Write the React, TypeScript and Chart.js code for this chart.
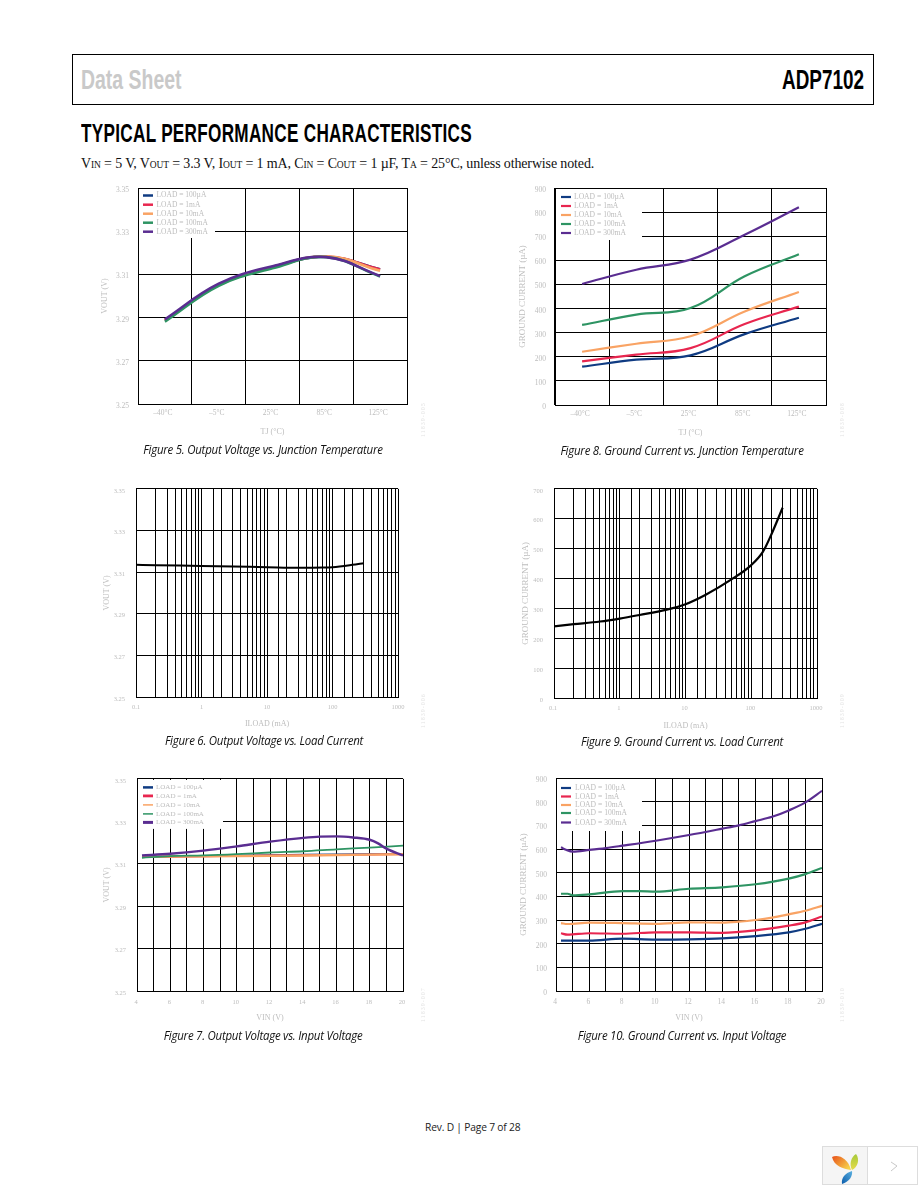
import React, { useEffect, useRef } from "react";
import { Chart, registerables } from "chart.js";

Chart.register(...registerables);

// ---------- data ----------
const loadLabels = ["LOAD = 100µA", "LOAD = 1mA", "LOAD = 10mA", "LOAD = 100mA", "LOAD = 300mA"];
const tempCategories = ["–40°C", "–5°C", "25°C", "85°C", "125°C"];

const fig5Blue = [3.2888, 3.3052, 3.3134, 3.3182, 3.3124];
const fig5Red = [3.2888, 3.3052, 3.3134, 3.3183, 3.3123];
const fig5Orange = [3.2886, 3.305, 3.3132, 3.3184, 3.3117];
const fig5Green = [3.2881, 3.3047, 3.3128, 3.318, 3.309];
const fig5Purple = [3.2892, 3.3057, 3.3138, 3.318, 3.3093];

const fig8Blue = [159, 188, 206, 294, 362];
const fig8Red = [181, 209, 236, 336, 408];
const fig8Orange = [221, 254, 285, 388, 469];
const fig8Green = [332, 375, 402, 534, 625];
const fig8Purple = [502, 561, 603, 706, 820];

const fig6Load = [0.1, 0.2, 1, 10, 30, 70, 100, 200, 300];
const fig6Vout = [3.3135, 3.3133, 3.313, 3.3124, 3.3121, 3.3122, 3.3124, 3.3135, 3.3143];

const fig9Load = [0.1, 0.2, 0.5, 1, 2, 5, 10, 20, 50, 100, 150, 200, 300];
const fig9Ground = [240, 247, 256, 266, 278, 295, 314, 345, 397, 445, 489, 545, 637];

const fig7InBlue = [4.3, 10, 14, 20];
const fig7Blue = [3.3133, 3.3139, 3.3143, 3.3146];
const fig7InRed = [4.3, 10, 14, 20];
const fig7Red = [3.3131, 3.3137, 3.314, 3.3145];
const fig7InOrange = [4.3, 10, 14, 20];
const fig7Orange = [3.3133, 3.3136, 3.3139, 3.3145];
const fig7InGreen = [4.3, 6, 8, 10, 12, 14, 16, 18, 20];
const fig7Green = [3.3128, 3.3136, 3.3139, 3.3145, 3.3153, 3.3159, 3.3168, 3.3176, 3.3185];
const fig7InPurple = [4.3, 6, 8, 10, 12, 14, 15, 16, 17, 18, 18.5, 19, 20];
const fig7Purple = [3.3139, 3.3147, 3.3162, 3.3182, 3.3204, 3.3222, 3.3228, 3.3229, 3.3224, 3.3213, 3.3196, 3.3171, 3.3139];

const fig10InBlue = [4.3, 6, 8, 10, 12, 14, 16, 18, 19, 20];
const fig10Blue = [213, 213, 221, 217, 218, 222, 232, 248, 263, 284];
const fig10InRed = [4.3, 4.7, 6, 8, 10, 12, 14, 16, 18, 19, 20];
const fig10Red = [244, 238, 244, 242, 248, 248, 246, 256, 276, 290, 315];
const fig10InOrange = [4.3, 4.7, 6, 8, 10, 12, 14, 15, 16, 17, 18, 19, 20];
const fig10Orange = [287, 283, 289, 287, 284, 290, 289, 293, 300, 310, 324, 339, 360];
const fig10InGreen = [4.3, 4.7, 5, 6, 8, 9, 10, 12, 14, 16, 18, 19, 20];
const fig10Green = [411, 411, 404, 408, 422, 422, 420, 432, 438, 451, 475, 494, 520];
const fig10InPurple = [4.3, 4.6, 5, 6, 7, 8, 10, 12, 14, 15, 16, 17, 18, 19, 20];
const fig10Purple = [607, 597, 589, 596, 604, 614, 635, 659, 686, 700, 718, 736, 763, 797, 846];

// ---------- style ----------
const BLUE = "#0f3b82";
const RED = "#e8264f";
const ORANGE = "#f9a364";
const GREEN = "#2e9463";
const PURPLE = "#5a2d91";
const TEXT = "#bdbdbd";
const SERIF = "'Liberation Serif', serif";
const M = { l: 50, r: 14, t: 14, b: 45 };

const pts = (xs: number[], ys: number[]) => xs.map((x, i) => ({ x, y: ys[i] }));
const series = (label: string, color: string, data: any, width = 2.2) => ({
  label,
  data,
  borderColor: color,
  backgroundColor: color,
  borderWidth: width,
  pointRadius: 0,
  tension: 0.4,
  fill: false,
});
const curve = (label: string, color: string, data: any, width = 2.2) => ({
  ...series(label, color, data, width),
  cubicInterpolationMode: "monotone",
});

const legendPlugin = {
  id: "panelLegend",
  beforeDatasetsDraw(chart: any, _a: any, o: any) {
    if (!o || !o.ys) return;
    const { ctx, chartArea } = chart;
    const ox = chartArea.left;
    const oy = chartArea.top;
    ctx.save();
    ctx.fillStyle = "#fff";
    ctx.fillRect(ox + 1, oy + 1, o.boxW, o.boxH);
    ctx.font = `${o.size}px ${SERIF}`;
    ctx.textBaseline = "middle";
    ctx.textAlign = "left";
    chart.data.datasets.forEach((d: any, i: number) => {
      const y = oy + o.ys[i];
      ctx.strokeStyle = d.borderColor;
      ctx.lineWidth = o.widths ? o.widths[i] : 2.2;
      ctx.beginPath();
      ctx.moveTo(ox + o.x0, y);
      ctx.lineTo(ox + o.x1, y);
      ctx.stroke();
      ctx.fillStyle = TEXT;
      ctx.fillText(d.label, ox + o.tx, y);
    });
    ctx.restore();
  },
};

type PanelProps = {
  plot: { left: number; top: number; right: number; bottom: number };
  datasets: any[];
  labels?: string[];
  xType: "category" | "linear" | "logarithmic";
  xRange?: [number, number];
  yRange: [number, number];
  yStep: number;
  yDigits: number;
  tickSize: number;
  yPad: number;
  yTitle: string;
  xTitle: string;
  yTitleSize: number;
  yTitleX: number;
  xTitleY: number;
  xTickPad: number;
  xLabelOffset: number;
  legend?: any;
};

function Panel(p: PanelProps) {
  const ref = useRef<HTMLCanvasElement | null>(null);
  const w = p.plot.right - p.plot.left + M.l + M.r;
  const h = p.plot.bottom - p.plot.top + M.t + M.b;
  useEffect(() => {
    const xTicks: any = {
      color: TEXT,
      font: { family: SERIF, size: p.tickSize },
      padding: p.xTickPad,
      maxRotation: 0,
      minRotation: 0,
      autoSkip: false,
      labelOffset: p.xLabelOffset,
    };
    if (p.xType === "linear") {
      xTicks.stepSize = 1;
      xTicks.callback = (v: number) => (v % 2 === 0 ? String(v) : "");
    }
    if (p.xType === "logarithmic") {
      xTicks.callback = (v: number) => {
        const l = Math.log10(v);
        return Math.abs(l - Math.round(l)) < 1e-6 ? String(v) : "";
      };
    }
    const xScale: any = {
      type: p.xType,
      offset: p.xType === "category",
      grid: { color: "#000", lineWidth: 1, drawTicks: false, offset: p.xType === "category" },
      border: { color: "#000", width: 1 },
      ticks: xTicks,
      title: {
        display: true,
        text: p.xTitle,
        color: TEXT,
        font: { family: SERIF, size: 8, lineHeight: 1 },
        padding: { top: 0, bottom: M.b - (p.xTitleY - p.plot.bottom) - 4 },
      },
      afterFit: (s: any) => {
        s.height = M.b;
      },
    };
    if (p.xRange) {
      xScale.min = p.xRange[0];
      xScale.max = p.xRange[1];
    }
    // Chart.js paints the lowest "order" last; later series must sit on top here.
    const ordered = p.datasets.map((d, i) => ({ ...d, order: p.datasets.length - i }));
    const chart = new Chart(ref.current as HTMLCanvasElement, {
      type: "line",
      data: { labels: p.labels, datasets: ordered },
      plugins: [legendPlugin],
      options: {
        responsive: false,
        animation: false,
        layout: { padding: { left: 0, top: M.t, right: M.r, bottom: 0 } },
        plugins: {
          legend: { display: false },
          tooltip: { enabled: false },
          panelLegend: p.legend,
        } as any,
        scales: {
          x: xScale,
          y: {
            type: "linear",
            min: p.yRange[0],
            max: p.yRange[1],
            grid: { color: "#000", lineWidth: 1, drawTicks: false },
            border: { color: "#000", width: 1 },
            ticks: {
              stepSize: p.yStep,
              color: TEXT,
              font: { family: SERIF, size: p.tickSize },
              padding: p.yPad,
              labelOffset: 2,
              callback: (v: any) => Number(v).toFixed(p.yDigits),
            },
            title: {
              display: true,
              text: p.yTitle,
              color: TEXT,
              font: { family: SERIF, size: p.yTitleSize, lineHeight: 1 },
              padding: { top: p.yTitleX - (p.plot.left - M.l) - p.yTitleSize / 2, bottom: 0 },
            },
            afterFit: (s: any) => {
              s.width = M.l;
            },
          } as any,
        },
      },
    });
    return () => chart.destroy();
  }, []);
  return (
    <canvas
      ref={ref}
      width={w}
      height={h}
      style={{ position: "absolute", left: p.plot.left - M.l, top: p.plot.top - M.t, width: w, height: h }}
    />
  );
}

const abs = (left: number, top: number, extra: any = {}) => ({
  position: "absolute" as const,
  left,
  top,
  whiteSpace: "nowrap" as const,
  lineHeight: 1,
  ...extra,
});

const NARROW = "'Liberation Sans', sans-serif";
const HUMAN = "'Open Sans', sans-serif";

function Caption({ cx, y, text }: { cx: number; y: number; text: string }) {
  return (
    <div
      style={abs(cx, y, {
        transform: "translateX(-50%) scaleX(0.955)",
        fontFamily: HUMAN,
        fontStyle: "italic",
        fontSize: 12,
        letterSpacing: "-0.25px",
        color: "#111",
      })}
    >
      {text}
    </div>
  );
}

function DocId({ x, y, text }: { x: number; y: number; text: string }) {
  return (
    <div
      style={abs(x, y, {
        transform: "rotate(-90deg)",
        transformOrigin: "left top",
        fontFamily: SERIF,
        fontSize: 6,
        letterSpacing: "1px",
        color: "#e2e2e2",
      })}
    >
      {text}
    </div>
  );
}

const Sub = ({ children }: { children: string }) => (
  <span style={{ fontSize: 9.5 }}>{children}</span>
);

const LEGEND_A = { x0: 5, x1: 15, tx: 18.5, size: 7.5, boxW: 76, boxH: 49, ys: [7.5, 16.7, 25.7, 34.7, 43.7], widths: [2.5, 2.5, 2.5, 2.5, 2.5] };
const LEGEND_B = { x0: 6, x1: 16, tx: 19, size: 7.6, boxW: 86, boxH: 51, ys: [9, 18, 27, 36, 45] };
const LEGEND_C = { x0: 6, x1: 16, tx: 19, size: 7, boxW: 85, boxH: 49, ys: [8.5, 17, 26, 35, 43.5], widths: [2.5, 2.8, 1.5, 1.5, 3] };
const LEGEND_D = { x0: 5, x1: 15, tx: 19, size: 7.6, boxW: 85, boxH: 52, ys: [10, 18.5, 27, 35, 44.5] };

export default function App() {
  return (
    <div style={{ position: "absolute", left: 0, top: 0, width: 918, height: 1188, overflow: "hidden", background: "#fff" }}>
      <div style={{ position: "absolute", left: 72, top: 54, width: 800, height: 49, border: "1px solid #000" }} />
      <div style={abs(81, 67, { fontFamily: NARROW, fontWeight: 700, fontSize: 27, color: "#c9c9c9", transform: "scaleX(0.72)", transformOrigin: "left" })}>Data Sheet</div>
      <div style={abs(782, 67, { fontFamily: NARROW, fontWeight: 700, fontSize: 27, color: "#000", transform: "scaleX(0.70)", transformOrigin: "left" })}>ADP7102</div>
      <div style={abs(81, 121, { fontFamily: NARROW, fontWeight: 700, fontSize: 25, color: "#000", letterSpacing: "0.4px", transform: "scaleX(0.687)", transformOrigin: "left" })}>TYPICAL PERFORMANCE CHARACTERISTICS</div>
      <div style={abs(81, 157, { fontFamily: SERIF, fontSize: 14, color: "#111", letterSpacing: "-0.14px" })}>
        V<Sub>IN</Sub> = 5 V, V<Sub>OUT</Sub> = 3.3 V, I<Sub>OUT</Sub> = 1 mA, C<Sub>IN</Sub> = C<Sub>OUT</Sub> = 1 µF, T<Sub>A</Sub> = 25°C, unless otherwise noted.
      </div>

      <Panel
        plot={{ left: 138, top: 188, right: 407, bottom: 404 }}
        labels={tempCategories}
        xType="category"
        yRange={[3.25, 3.35]}
        yStep={0.02}
        yDigits={2}
        tickSize={7.5}
        yPad={9}
        yTitle="VOUT (V)"
        xTitle="TJ (°C)"
        yTitleSize={8}
        yTitleX={105}
        xTitleY={432}
        xTickPad={5}
        xLabelOffset={-2}
        legend={LEGEND_A}
        datasets={[
          series(loadLabels[0], BLUE, fig5Blue, 2.6),
          series(loadLabels[1], RED, fig5Red, 2.6),
          series(loadLabels[2], ORANGE, fig5Orange, 2.6),
          series(loadLabels[3], GREEN, fig5Green, 2.6),
          series(loadLabels[4], PURPLE, fig5Purple, 2.6),
        ]}
      />
      <Panel
        plot={{ left: 555, top: 188, right: 826, bottom: 405 }}
        labels={tempCategories}
        xType="category"
        yRange={[0, 900]}
        yStep={100}
        yDigits={0}
        tickSize={7.5}
        yPad={9}
        yTitle="GROUND CURRENT (µA)"
        xTitle="TJ (°C)"
        yTitleSize={9}
        yTitleX={523}
        xTitleY={433}
        xTickPad={5}
        xLabelOffset={-2}
        legend={LEGEND_B}
        datasets={[
          series(loadLabels[0], BLUE, fig8Blue),
          series(loadLabels[1], RED, fig8Red),
          series(loadLabels[2], ORANGE, fig8Orange),
          series(loadLabels[3], GREEN, fig8Green),
          series(loadLabels[4], PURPLE, fig8Purple),
        ]}
      />
      <Panel
        plot={{ left: 136, top: 488, right: 398, bottom: 697 }}
        xType="logarithmic"
        xRange={[0.1, 1000]}
        yRange={[3.25, 3.35]}
        yStep={0.02}
        yDigits={2}
        tickSize={6.5}
        yPad={11}
        yTitle="VOUT (V)"
        xTitle="ILOAD (mA)"
        yTitleSize={8}
        yTitleX={107}
        xTitleY={724}
        xTickPad={6}
        xLabelOffset={0}
        datasets={[curve("VOUT", "#000", pts(fig6Load, fig6Vout), 2)]}
      />
      <Panel
        plot={{ left: 554, top: 488, right: 817, bottom: 698 }}
        xType="logarithmic"
        xRange={[0.1, 1000]}
        yRange={[0, 700]}
        yStep={100}
        yDigits={0}
        tickSize={6.5}
        yPad={11}
        yTitle="GROUND CURRENT (µA)"
        xTitle="ILOAD (mA)"
        yTitleSize={9}
        yTitleX={526}
        xTitleY={726}
        xTickPad={6}
        xLabelOffset={-1}
        datasets={[curve("IGND", "#000", pts(fig9Load, fig9Ground), 2.2)]}
      />
      <Panel
        plot={{ left: 137, top: 778, right: 403, bottom: 991 }}
        xType="linear"
        xRange={[4, 20]}
        yRange={[3.25, 3.35]}
        yStep={0.02}
        yDigits={2}
        tickSize={6.5}
        yPad={11}
        yTitle="VOUT (V)"
        xTitle="VIN (V)"
        yTitleSize={8}
        yTitleX={107}
        xTitleY={1018}
        xTickPad={7}
        xLabelOffset={-1}
        legend={LEGEND_C}
        datasets={[
          curve(loadLabels[0], BLUE, pts(fig7InBlue, fig7Blue), 1.6),
          curve(loadLabels[1], RED, pts(fig7InRed, fig7Red), 1.8),
          curve(loadLabels[2], ORANGE, pts(fig7InOrange, fig7Orange), 2.4),
          curve(loadLabels[3], GREEN, pts(fig7InGreen, fig7Green), 1.8),
          curve(loadLabels[4], PURPLE, pts(fig7InPurple, fig7Purple), 2.4),
        ]}
      />
      <Panel
        plot={{ left: 556, top: 778, right: 822, bottom: 991 }}
        xType="linear"
        xRange={[4, 20]}
        yRange={[0, 900]}
        yStep={100}
        yDigits={0}
        tickSize={7.5}
        yPad={9}
        yTitle="GROUND CURRENT (µA)"
        xTitle="VIN (V)"
        yTitleSize={9}
        yTitleX={524}
        xTitleY={1018}
        xTickPad={7}
        xLabelOffset={-1}
        legend={LEGEND_D}
        datasets={[
          curve(loadLabels[0], BLUE, pts(fig10InBlue, fig10Blue)),
          curve(loadLabels[1], RED, pts(fig10InRed, fig10Red)),
          curve(loadLabels[2], ORANGE, pts(fig10InOrange, fig10Orange)),
          curve(loadLabels[3], GREEN, pts(fig10InGreen, fig10Green)),
          curve(loadLabels[4], PURPLE, pts(fig10InPurple, fig10Purple)),
        ]}
      />

      <Caption cx={263} y={444} text="Figure 5. Output Voltage vs. Junction Temperature" />
      <Caption cx={681.5} y={445} text="Figure 8. Ground Current vs. Junction Temperature" />
      <Caption cx={263.5} y={735} text="Figure 6. Output Voltage vs. Load Current" />
      <Caption cx={682} y={736} text="Figure 9. Ground Current vs. Load Current" />
      <Caption cx={263} y={1030} text="Figure 7. Output Voltage vs. Input Voltage" />
      <Caption cx={681.5} y={1030} text="Figure 10. Ground Current vs. Input Voltage" />

      <DocId x={420} y={437} text="11839-005" />
      <DocId x={839} y={437} text="11839-008" />
      <DocId x={420} y={728} text="11839-006" />
      <DocId x={839} y={728} text="11839-009" />
      <DocId x={420} y={1022} text="11839-007" />
      <DocId x={839} y={1022} text="11839-010" />

      <div style={abs(425, 1121, { fontFamily: HUMAN, fontSize: 11.5, letterSpacing: "-0.2px", color: "#222", transform: "scaleX(0.89)", transformOrigin: "left" })}>Rev. D | Page 7 of 28</div>

      <div style={{ position: "absolute", left: 822, top: 1146, width: 46, height: 39, background: "#f5f5f5", border: "1px solid #ddd", boxSizing: "border-box" }} />
      <div style={{ position: "absolute", left: 868, top: 1146, width: 50, height: 39, background: "#fff", borderTop: "1px solid #ddd", borderBottom: "1px solid #ddd", borderRight: "1px solid #ddd", boxSizing: "border-box" }} />
      <svg style={{ position: "absolute", left: 822, top: 1146 }} width={96} height={39}>
        <defs>
          <linearGradient id="lfO" x1="0" y1="0" x2="1" y2="0.7">
            <stop offset="0" stopColor="#e8501a" />
            <stop offset="1" stopColor="#f7d24a" />
          </linearGradient>
          <linearGradient id="lfG" x1="0" y1="0" x2="0" y2="1">
            <stop offset="0" stopColor="#a6c93a" />
            <stop offset="1" stopColor="#e6dc4a" />
          </linearGradient>
          <linearGradient id="lfB" x1="1" y1="0" x2="0" y2="1">
            <stop offset="0" stopColor="#5ab0e0" />
            <stop offset="1" stopColor="#0b5cab" />
          </linearGradient>
        </defs>
        <path d="M10 11 C16 8 26 12 29 24 C21 23 12 20 10 11 Z" fill="url(#lfO)" />
        <path d="M34 8 C38 13 36 21 30 24 C27 18 29 11 34 8 Z" fill="url(#lfG)" />
        <path d="M30 25 C31 30 27 36 20 38 C19 32 23 27 30 25 Z" fill="url(#lfB)" />
        <path d="M69 16 L75 20 L69 25" fill="none" stroke="#c8c8c8" strokeWidth={1} />
      </svg>
    </div>
  );
}
